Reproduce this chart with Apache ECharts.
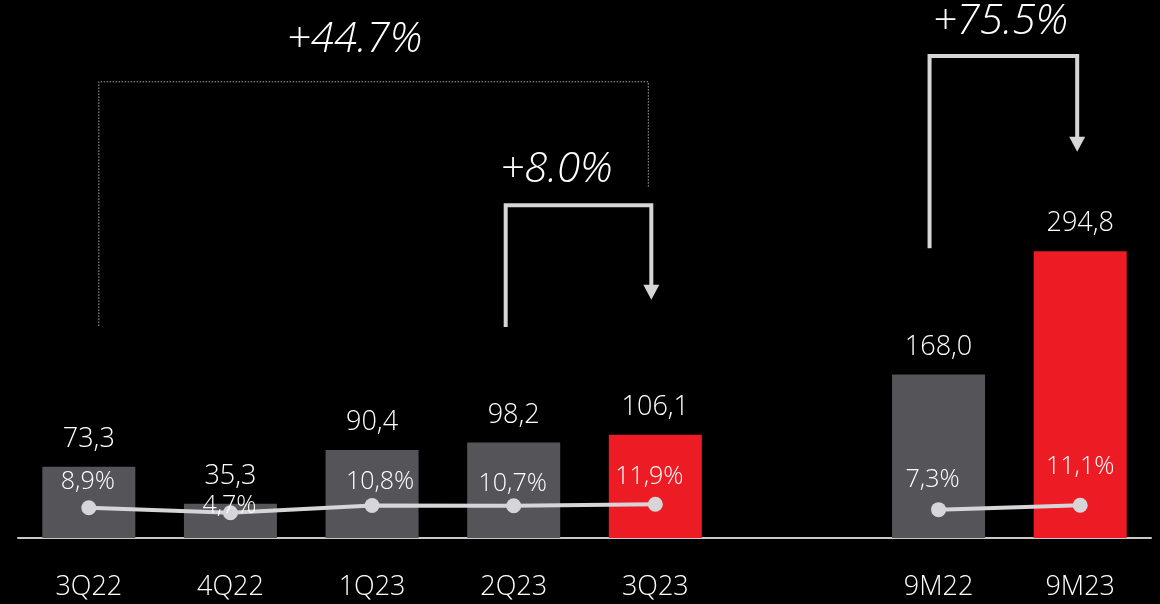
<!DOCTYPE html>
<html>
<head>
<meta charset="utf-8">
<script src="https://cdn.jsdelivr.net/npm/echarts@6/dist/echarts.min.js"></script>
<style>
  html, body { margin: 0; padding: 0; background: #000; }
  #chart { width: 1160px; height: 604px; }
</style>
</head>
<body>
<div id="chart"></div>
<script>
// Periods (an empty slot separates the quarters from the nine-month totals)
const categories = ['3Q22', '4Q22', '1Q23', '2Q23', '3Q23', '', '9M22', '9M23'];
// Operating profit per period
const profit = [73.3, 35.3, 90.4, 98.2, 106.1, null, 168.0, 294.8];
// Operating margin, %
const margin = [8.9, 4.7, 10.8, 10.7, 11.9, null, 7.3, 11.1];
// Current periods shown in red
const currentPeriods = ['3Q23', '9M23'];
// Growth call-outs between periods
const growth = [
  { from: '3Q22', to: '3Q23', text: '+44.7%' },
  { from: '2Q23', to: '3Q23', text: '+8.0%' },
  { from: '9M22', to: '9M23', text: '+75.5%' }
];

// ---- styling ----
const FONT = '"Open Sans", "Liberation Sans", sans-serif';
const GRAY = '#555559';
const RED = '#ed1c24';
const LINE = '#d6d6d8';

// Offsets of the margin labels from their points [dx, dy]
const marginLabelOffset = [[-1, -26], [-1, -7], [8, -24], [-1, -22], [-6, -27], [0, 0], [-6, -30], [0, -38]];

// Bracket geometry: x shifts (px) from category centres, heights in profit-axis units
const bracketLayout = [
  { dashed: true,  dxL: 10, dxR: -7,  yL: 218, yTop: 469,   yR: 361, arrow: false, textDx: -19, textY: 512 },
  { dashed: false, dxL: -8, dxR: -4,  yL: 217, yTop: 342,   yR: 245, arrow: true,  textDx: -22, textY: 378 },
  { dashed: false, dxL: -9, dxR: -3,  yL: 298, yTop: 495.5, yR: 397, arrow: true,  textDx: -3,  textY: 530 }
];

const fmt = v => v.toFixed(1).replace('.', ',');

const barData = profit.map((v, i) => ({
  value: v,
  itemStyle: { color: currentPeriods.includes(categories[i]) ? RED : GRAY }
}));

const lineData = margin.map((v, i) => ({
  value: v,
  label: { offset: marginLabelOffset[i] }
}));

const chart = echarts.init(document.getElementById('chart'));

chart.setOption({
  backgroundColor: '#000',
  animation: false,
  grid: { left: 18, right: 9, top: 3, bottom: 66 },
  xAxis: {
    type: 'category',
    data: categories,
    axisLine: { lineStyle: { color: '#c8c8c8', width: 2 } },
    axisTick: { show: false },
    axisLabel: { color: '#fff', fontSize: 27, fontFamily: FONT, fontWeight: 300, margin: 36 }
  },
  yAxis: [
    { type: 'value', min: 0, max: 550, show: false },
    { type: 'value', min: -16.9, max: 440, show: false }
  ],
  series: [
    {
      type: 'bar',
      data: barData,
      barWidth: 93,
      label: {
        show: true,
        position: 'top',
        distance: 14,
        color: '#fff',
        fontSize: 27,
        fontFamily: FONT,
        fontWeight: 300,
        formatter: p => fmt(p.value)
      },
      z: 2
    },
    {
      type: 'line',
      yAxisIndex: 1,
      data: lineData,
      connectNulls: false,
      symbol: 'circle',
      symbolSize: 15,
      lineStyle: { color: LINE, width: 4 },
      itemStyle: { color: LINE },
      label: {
        show: true,
        position: 'inside',
        color: '#fff',
        fontSize: 25,
        fontFamily: FONT,
        fontWeight: 300,
        formatter: p => fmt(p.value) + '%'
      },
      z: 3
    },
    {
      type: 'custom',
      data: growth.map((g, i) => [categories.indexOf(g.from), 0, i]),
      encode: { x: 0, y: 1 },
      clip: false,
      z: 5,
      silent: true,
      renderItem: (params, api) => {
        const k = api.value(2);
        const g = growth[k];
        const L = bracketLayout[k];
        const xFrom = api.coord([categories.indexOf(g.from), 0])[0] + L.dxL;
        const xTo = api.coord([categories.indexOf(g.to), 0])[0] + L.dxR;
        const y = v => api.coord([0, v])[1];
        const yL = y(L.yL), yT = y(L.yTop), yR = y(L.yR);
        const children = [];
        const aH = 15, aW = 16;
        children.push({
          type: 'polyline',
          shape: { points: [[xFrom, yL], [xFrom, yT], [xTo, yT], [xTo, L.arrow ? yR - aH + 1 : yR]] },
          style: L.dashed
            ? { stroke: '#a8a8a8', lineWidth: 1, lineDash: [1.5, 1.5], fill: null }
            : { stroke: LINE, lineWidth: 4, fill: null, lineJoin: 'miter' }
        });
        if (L.arrow) {
          children.push({
            type: 'polygon',
            shape: { points: [[xTo - aW / 2, yR - aH], [xTo + aW / 2, yR - aH], [xTo, yR]] },
            style: { fill: LINE }
          });
        }
        children.push({
          type: 'text',
          x: (xFrom + xTo) / 2 + L.textDx,
          y: y(L.textY),
          style: {
            text: g.text,
            fill: '#fff',
            font: 'italic 300 42px ' + FONT,
            align: 'center',
            verticalAlign: 'middle'
          }
        });
        return { type: 'group', children };
      }
    }
  ]
});
</script>
</body>
</html>
